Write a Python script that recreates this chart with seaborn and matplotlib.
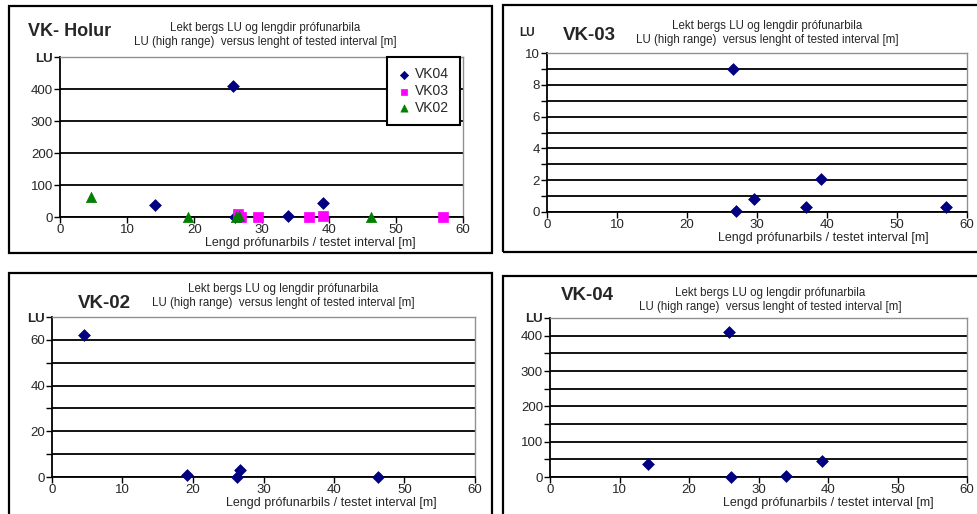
import numpy as np
import pandas as pd
import matplotlib.pyplot as plt
import seaborn as sns
from matplotlib.patches import Rectangle

# values
vk04_len = [14.1, 25.8, 26.0, 34.0, 39.1]
vk04_lu = [36, 410, 0, 2, 45]

vk03_len = [26.5, 27.0, 29.5, 37.0, 39.1, 57.0]
vk03_lu = [9.0, 0.05, 0.8, 0.3, 2.1, 0.3]

vk02_len = [4.6, 19.1, 26.2, 26.7, 46.3]
vk02_lu = [62, 0.8, 0, 3, 0.2]

x_ticks = [0, 10, 20, 30, 40, 50, 60]
subtitle = "Lekt bergs LU og lengdir prófunarbila\nLU (high range)  versus lenght of tested interval [m]"
xlabel = "Lengd prófunarbils / testet interval [m]"

navy = "#000080"
magenta = "#FF00FF"
green = "#008000"

sns.set_style("white")
plt.rcParams['font.family'] = ['Liberation Sans', 'DejaVu Sans']

W, H = 977, 514
fig = plt.figure(figsize=(W / 100, H / 100), dpi=100)


def px_axes(x0, y0, x1, y1):
    return fig.add_axes([x0 / W, 1 - y1 / H, (x1 - x0) / W, (y1 - y0) / H])


def px_text(x, y, s, **kw):
    fig.text(x / W, 1 - y / H, s, **kw)


def box(x0, y0, x1, y1):
    fig.patches.append(Rectangle((x0 / W, 1 - y1 / H), (x1 - x0) / W, (y1 - y0) / H,
                                 transform=fig.transFigure, fill=False,
                                 edgecolor='black', lw=1.6, zorder=0))


def style_axes(ax, ymax, major, minor, lu_on_axis=True):
    ax.set_xlim(0, 60)
    ax.set_ylim(0, ymax)
    ax.set_xticks(x_ticks)
    ax.set_xticklabels([str(t) for t in x_ticks], fontsize=9.5)
    ax.set_yticks(major)
    labels = [str(int(t)) for t in major]
    if lu_on_axis:
        labels[-1] = "LU"
    ax.set_yticklabels(labels, fontsize=9.5)
    if lu_on_axis:
        ax.get_yticklabels()[-1].set_fontweight('bold')
    ax.set_yticks(minor, minor=True)
    ax.grid(which='both', axis='y', color='black', lw=1.3)
    ax.grid(axis='x', visible=False)
    ax.set_axisbelow(True)
    ax.tick_params(axis='both', which='both', direction='out', length=4, width=1,
                   color='black', pad=1, left=True, bottom=True)
    ax.tick_params(axis='x', which='minor', bottom=False)
    for s in ['left', 'bottom']:
        ax.spines[s].set_color('black')
        ax.spines[s].set_linewidth(1.3)
    for s in ['top', 'right']:
        ax.spines[s].set_color('#909090')
        ax.spines[s].set_linewidth(1.0)
    ax.set_xlabel("")
    ax.set_ylabel("")


def scatter(ax, x, y, marker, color, size, name=None):
    sns.scatterplot(x=x, y=y, ax=ax, marker=marker, color=color, s=size,
                    edgecolor=color, linewidth=0.5, clip_on=False, label=name, zorder=3)


# panel borders
box(9, 6, 492, 253)
box(503, 5, 990, 252)
box(9, 273, 492, 530)
box(503, 276, 990, 530)

# VK- Holur (all holes)
ax1 = px_axes(60, 57, 463, 217)
scatter(ax1, vk04_len, vk04_lu, "D", navy, 36, "VK04")
scatter(ax1, vk03_len, vk03_lu, "s", magenta, 50, "VK03")
scatter(ax1, vk02_len, vk02_lu, "^", green, 55, "VK02")
style_axes(ax1, 500, [0, 100, 200, 300, 400, 500], [])
leg = ax1.legend(loc='upper left', bbox_to_anchor=(0.811, 1.0), fontsize=10,
                 frameon=True, fancybox=False, edgecolor='black', framealpha=1,
                 handletextpad=0.3, borderpad=0.75, labelspacing=0.2, handlelength=1.0,
                 borderaxespad=0, markerscale=0.7)
leg.get_frame().set_linewidth(1.5)
px_text(28, 32, "VK- Holur", fontsize=13, fontweight='bold', va='center', ha='left')
px_text(265, 35, subtitle, fontsize=8.3, ha='center', va='center', linespacing=1.25)
px_text(310, 243, xlabel, fontsize=9, ha='center', va='center')

# VK-03
ax2 = px_axes(547, 53, 967, 212)
scatter(ax2, vk03_len, vk03_lu, "D", navy, 36)
style_axes(ax2, 10, [0, 2, 4, 6, 8, 10], [1, 3, 5, 7, 9], lu_on_axis=False)
px_text(527, 33, "LU", fontsize=8.5, fontweight='bold', ha='center', va='center')
px_text(563, 35, "VK-03", fontsize=13.5, fontweight='bold', ha='left', va='center')
px_text(767, 33, subtitle, fontsize=8.3, ha='center', va='center', linespacing=1.25)
px_text(823, 238, xlabel, fontsize=9, ha='center', va='center')

# VK-02
ax3 = px_axes(52, 317, 475, 477)
scatter(ax3, vk02_len, vk02_lu, "D", navy, 36)
style_axes(ax3, 70, [0, 20, 40, 60, 70], [10, 30, 50])
px_text(78, 303, "VK-02", fontsize=13.5, fontweight='bold', ha='left', va='center')
px_text(283, 296, subtitle, fontsize=8.3, ha='center', va='center', linespacing=1.25)
px_text(331, 503, xlabel, fontsize=9, ha='center', va='center')

# VK-04
ax4 = px_axes(550, 318, 967, 477)
scatter(ax4, vk04_len, vk04_lu, "D", navy, 36)
style_axes(ax4, 450, [0, 100, 200, 300, 400, 450], [50, 150, 250, 350])
px_text(561, 295, "VK-04", fontsize=13.5, fontweight='bold', ha='left', va='center')
px_text(770, 300, subtitle, fontsize=8.3, ha='center', va='center', linespacing=1.25)
px_text(828, 503, xlabel, fontsize=9, ha='center', va='center')

fig.savefig("out.png", dpi=100)
